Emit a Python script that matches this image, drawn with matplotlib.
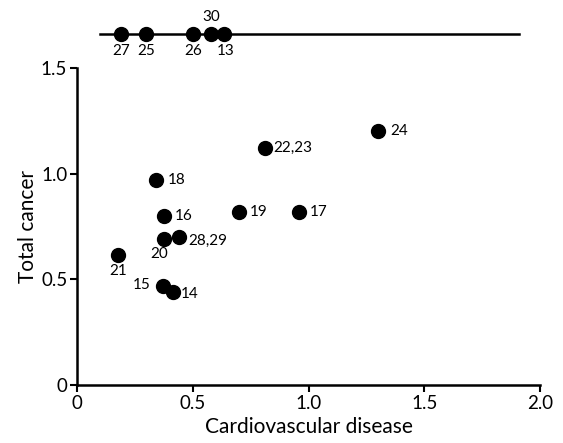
import matplotlib
matplotlib.use("Agg")
import matplotlib.pyplot as plt

plt.rcParams['font.family'] = ['Lato', 'DejaVu Sans']

# Main scatter data
labels = ["24", "22,23", "18", "16", "19", "17", "20", "28,29", "21", "15", "14"]
cvd = [1.30, 0.81, 0.34, 0.376, 0.70, 0.96, 0.376, 0.44, 0.177, 0.37, 0.415]
cancer = [1.20, 1.12, 0.97, 0.80, 0.82, 0.82, 0.69, 0.70, 0.616, 0.47, 0.44]

# Top strip data (cardiovascular only)
strip_labels = ["27", "25", "26", "30", "13"]
strip_cvd = [0.19, 0.30, 0.50, 0.58, 0.635]
strip_range = [0.10, 1.91]

xticks = [0, 0.5, 1.0, 1.5, 2.0]
xticklabels = ["0", "0.5", "1.0", "1.5", "2.0"]
yticks = [0, 0.5, 1.0, 1.5]
yticklabels = ["0", "0.5", "1.0", "1.5"]

# label offsets in pixels (dx, dy), ha
px = 0.72
offsets = {
    "24": (12, 0, "left"), "22,23": (9, 0, "left"), "18": (12, 0, "left"),
    "16": (11, 0, "left"), "19": (11, 0, "left"), "17": (11, 0, "left"),
    "20": (-5, -15, "center"), "28,29": (9, -4, "left"), "21": (0, -16, "center"),
    "15": (-12, 1, "right"), "14": (8, -2, "left"),
}
strip_offsets = {"27": (0, -17), "25": (0, -17), "26": (0, -17), "30": (0, 17), "13": (2, -17)}

fig = plt.figure(figsize=(5.63, 4.43), dpi=100)
ax = fig.add_axes([77/563, 1-385/443, (540-77)/563, (385-68)/443])
ax.set_xlim(0, 2.0)
ax.set_ylim(0, 1.5)
ax.spines['top'].set_visible(False)
ax.spines['right'].set_visible(False)
for s in ['left', 'bottom']:
    ax.spines[s].set_linewidth(1.8)
ax.set_xticks(xticks)
ax.set_xticklabels(xticklabels, fontsize=13.5)
ax.set_yticks(yticks)
ax.set_yticklabels(yticklabels, fontsize=13.5)
ax.tick_params(direction='out', length=5, width=1.5, pad=2)
ax.set_xlabel("Cardiovascular disease", fontsize=15, labelpad=4)
ax.set_ylabel("Total cancer", fontsize=15)
ax.yaxis.set_label_coords(-0.084, 0.5)

ax.plot(cvd, cancer, 'o', color='black', markersize=10, clip_on=False)
for lab, x, y in zip(labels, cvd, cancer):
    dx, dy, ha = offsets[lab]
    ax.annotate(lab, (x, y), xytext=(dx*px, dy*px), textcoords='offset points',
                ha=ha, va='center', fontsize=11)

# top strip
strip_y = 1.663
ax.plot(strip_range, [strip_y, strip_y], color='black', lw=1.8, clip_on=False)
ax.plot(strip_cvd, [strip_y]*len(strip_cvd), 'o', color='black', markersize=10, clip_on=False)
for lab, x in zip(strip_labels, strip_cvd):
    dx, dy = strip_offsets[lab]
    ax.annotate(lab, (x, strip_y), xytext=(dx*px, dy*px), textcoords='offset points',
                ha='center', va='center', fontsize=11, annotation_clip=False)

fig.savefig("out.png", dpi=100)
